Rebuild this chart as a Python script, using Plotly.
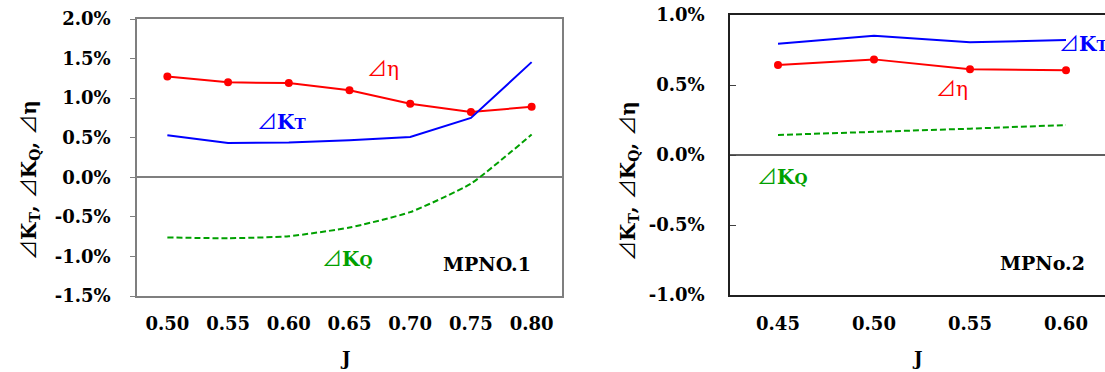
import plotly.graph_objects as go

# ---------------- data ----------------
J1 = [0.50, 0.55, 0.60, 0.65, 0.70, 0.75, 0.80]
J1_labels = ["0.50", "0.55", "0.60", "0.65", "0.70", "0.75", "0.80"]
eta1 = [0.01275, 0.0120, 0.0119, 0.0110, 0.0093, 0.00825, 0.0089]
kt1 = [0.0053, 0.00433, 0.0044, 0.00467, 0.0051, 0.0075, 0.01455]
kq1 = [-0.0076, -0.0077, -0.00745, -0.00635, -0.0044, -0.0008, 0.0054]
y1_ticks = [-0.015, -0.01, -0.005, 0.0, 0.005, 0.01, 0.015, 0.02]
y1_labels = ["-1.5%", "-1.0%", "-0.5%", "0.0%", "0.5%", "1.0%", "1.5%", "2.0%"]

J2 = [0.45, 0.50, 0.55, 0.60]
J2_labels = ["0.45", "0.50", "0.55", "0.60"]
eta2 = [0.00643, 0.00683, 0.00612, 0.00605]
kt2 = [0.00795, 0.00852, 0.00805, 0.00821]
kq2 = [0.00143, 0.00164, 0.00188, 0.00214]
y2_ticks = [-0.01, -0.005, 0.0, 0.005, 0.01]
y2_labels = ["-1.0%", "-0.5%", "0.0%", "0.5%", "1.0%"]

W, H = 1105, 372
RED, BLUE, GREEN = "#FF0000", "#0000FF", "#00A000"
FONT = "DejaVu Serif"
TRI = "<span style=\"font-family:'Noto Sans CJK JP';font-weight:normal\">⊿</span>"

fig = go.Figure()

# left chart
fig.add_trace(go.Scatter(x=J1, y=eta1, mode="lines+markers", line=dict(color=RED, width=2),
                         marker=dict(color=RED, size=8), xaxis="x", yaxis="y", showlegend=False))
fig.add_trace(go.Scatter(x=J1, y=kt1, mode="lines", line=dict(color=BLUE, width=2),
                         xaxis="x", yaxis="y", showlegend=False))
fig.add_trace(go.Scatter(x=J1, y=kq1, mode="lines", line=dict(color=GREEN, width=2, dash="6px,3px",
                         shape="spline", smoothing=0.5), xaxis="x", yaxis="y", showlegend=False))
# right chart
fig.add_trace(go.Scatter(x=J2, y=eta2, mode="lines+markers", line=dict(color=RED, width=2),
                         marker=dict(color=RED, size=8), xaxis="x2", yaxis="y2", showlegend=False))
fig.add_trace(go.Scatter(x=J2, y=kt2, mode="lines", line=dict(color=BLUE, width=2),
                         xaxis="x2", yaxis="y2", showlegend=False))
fig.add_trace(go.Scatter(x=J2, y=kq2, mode="lines", line=dict(color=GREEN, width=2, dash="6px,3px"),
                         xaxis="x2", yaxis="y2", showlegend=False))

tickfont = dict(family=FONT, size=18, color="black", weight="bold")

# domains (pixel based)
x1d = [137 / W, 562 / W]
y1d = [1 - 296 / H, 1 - 19 / H]
x2d = [730 / W, 1.0]
y2d = [1 - 295 / H, 1 - 15 / H]
x1r = [0.475, 0.825]
y1r = [-0.015, 0.02]
x2r = [0.425, 0.425 + (1105 - 730) / 96 * 0.05]
y2r = [-0.01, 0.01]

zero1 = y1d[0] + (0 - y1r[0]) / (y1r[1] - y1r[0]) * (y1d[1] - y1d[0])
zero2 = y2d[0] + (0 - y2r[0]) / (y2r[1] - y2r[0]) * (y2d[1] - y2d[0])

b1 = [(a + b) / 2 for a, b in zip(J1[:-1], J1[1:])]
b2 = [(a + b) / 2 for a, b in zip(J2[:-1], J2[1:])]

GRAY = "#7F7F7F"
fig.update_layout(
    width=W, height=H, margin=dict(l=0, r=0, t=0, b=0, autoexpand=False),
    paper_bgcolor="white", plot_bgcolor="white",
    xaxis=dict(domain=x1d, anchor="y", range=x1r, tickvals=J1, ticktext=J1_labels, ticks="",
               showline=True, linecolor=GRAY, linewidth=1.5, mirror=True, showgrid=False, zeroline=False,
               tickfont=tickfont, ticklabelstandoff=11, automargin=False),
    yaxis=dict(domain=y1d, anchor="x", range=y1r, tickvals=y1_ticks, ticktext=y1_labels, ticks="outside",
               ticklen=5, tickcolor=GRAY, showline=True, linecolor=GRAY, linewidth=1.5, mirror=True,
               showgrid=False, zeroline=True, zerolinecolor=GRAY, zerolinewidth=1.5,
               tickfont=tickfont, ticklabelstandoff=16, automargin=False),
    xaxis3=dict(overlaying="x", anchor="free", position=zero1 + 7 / H, range=x1r, tickvals=b1,
                ticks="outside", ticklen=14, tickcolor="#404040", tickwidth=1.5, showticklabels=False,
                showline=False, showgrid=False, zeroline=False, automargin=False),
    xaxis2=dict(domain=x2d, anchor="y2", range=x2r, tickvals=J2, ticktext=J2_labels, ticks="",
                showline=True, linecolor="#202020", linewidth=1.5, mirror=True, showgrid=False,
                zeroline=False, tickfont=tickfont, ticklabelstandoff=12, automargin=False),
    yaxis2=dict(domain=y2d, anchor="x2", range=y2r, tickvals=y2_ticks, ticktext=y2_labels, ticks="inside",
                ticklen=6, tickcolor="#404040", showline=True, linecolor="#202020", linewidth=1.5,
                mirror=False, showgrid=False, zeroline=True, zerolinecolor="#606060", zerolinewidth=1.5,
                tickfont=tickfont, ticklabelstandoff=20, automargin=False),
    xaxis4=dict(overlaying="x2", anchor="free", position=zero2 + 7 / H, range=x2r, tickvals=b2,
                ticks="outside", ticklen=14, tickcolor="#404040", tickwidth=1.5, showticklabels=False,
                showline=False, showgrid=False, zeroline=False, automargin=False),
)

lab = dict(family=FONT, size=20)
SUBT = "<span style='font-size:15px'>T</span>"
SUBQ = "<span style='font-size:15px'>Q</span>"
ann = [
    dict(x=0.6776, y=0.0139, xref="x", yref="y", text=TRI + "η", font=dict(lab, color=RED)),
    dict(x=0.5944, y=0.0072, xref="x", yref="y", text=TRI + "K" + SUBT,
         font=dict(lab, color=BLUE, weight="bold")),
    dict(x=0.648, y=-0.0101, xref="x", yref="y", text=TRI + "K" + SUBQ,
         font=dict(lab, color=GREEN, weight="bold")),
    dict(x=0.7632, y=-0.0109, xref="x", yref="y", text="MPNO.1",
         font=dict(family=FONT, size=19, color="black", weight="bold")),
    dict(x=0.5953, y=0.0080, xref="x2", yref="y2", xanchor="left", text=TRI + "K" + SUBT,
         font=dict(lab, color=BLUE, weight="bold")),
    dict(x=0.5406, y=0.0048, xref="x2", yref="y2", text=TRI + "η", font=dict(lab, color=RED)),
    dict(x=0.4521, y=-0.00143, xref="x2", yref="y2", text=TRI + "K" + SUBQ,
         font=dict(lab, color=GREEN, weight="bold")),
    dict(x=0.5875, y=-0.0077, xref="x2", yref="y2", text="MPNo.2",
         font=dict(family=FONT, size=19, color="black", weight="bold")),
    dict(x=28 / W, y=1 - 180 / H, xref="paper", yref="paper", textangle=-90,
         text=TRI + "K<sub>T</sub>, " + TRI + "K<sub>Q</sub>, " + TRI + "η",
         font=dict(lab, color="black", weight="bold")),
    dict(x=627 / W, y=1 - 181 / H, xref="paper", yref="paper", textangle=-90,
         text=TRI + "K<sub>T</sub>, " + TRI + "K<sub>Q</sub>, " + TRI + "η",
         font=dict(lab, color="black", weight="bold")),
    dict(x=345 / W, y=1 - 358 / H, xref="paper", yref="paper", text="J",
         font=dict(family=FONT, size=18, color="black", weight="bold")),
    dict(x=917 / W, y=1 - 358 / H, xref="paper", yref="paper", text="J",
         font=dict(family=FONT, size=18, color="black", weight="bold")),
]
for a in ann:
    a.setdefault("showarrow", False)
    a.setdefault("xanchor", "center")
    a.setdefault("yanchor", "middle")
fig.update_layout(annotations=ann)

fig.write_html("out.html", config={"displayModeBar": False},
               post_script="document.body.style.margin='0px';")
